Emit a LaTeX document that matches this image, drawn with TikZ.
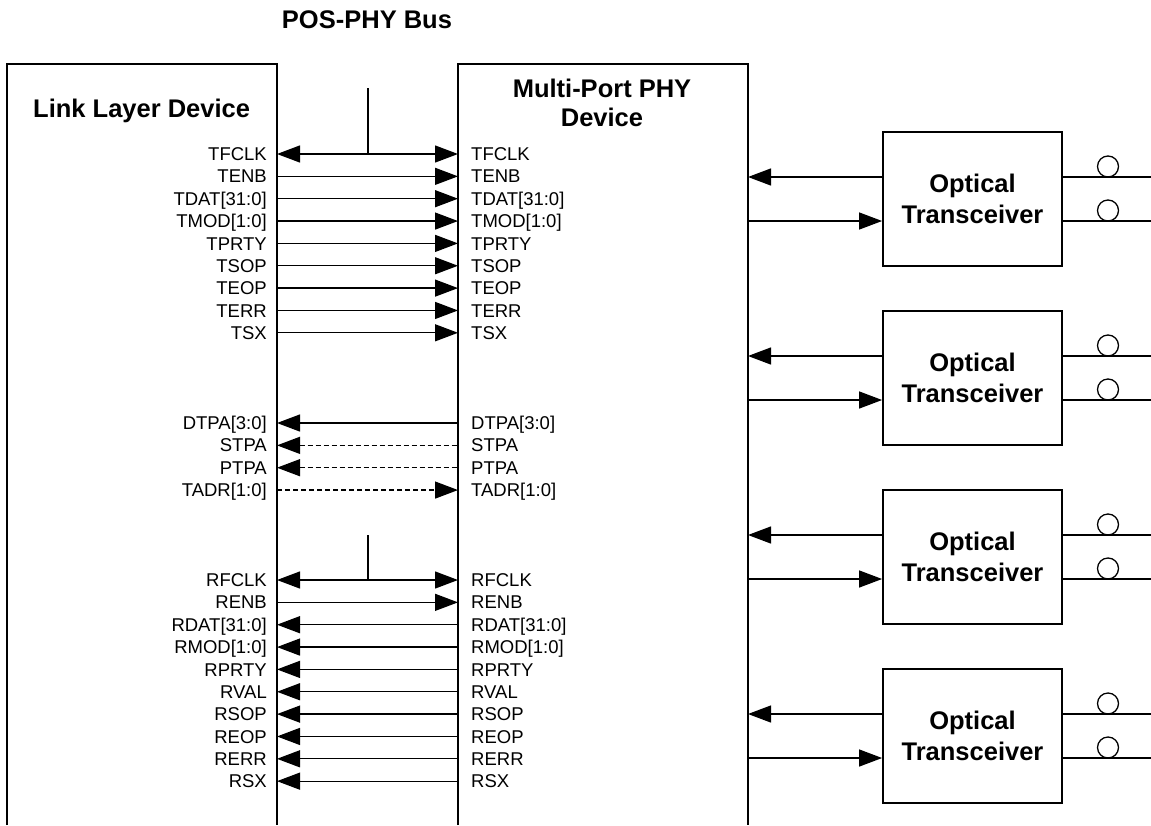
\documentclass[tikz,border=0pt]{standalone}
\usepackage{fontspec}
\setmainfont{Liberation Sans}
\usetikzlibrary{arrows.meta}
\begin{document}
\begin{tikzpicture}[x=1pt,y=-1pt,
  boxline/.style={line width=1.8pt},
  sig/.style={line width=1.3pt},
  tri/.tip={Triangle[length=23pt,width=17pt]},
  sigright/.style={sig,-tri},
  sigleft/.style={sig,tri-},
  sigbi/.style={sig,tri-tri},
  sigrightd/.style={sig,-tri,dash pattern=on 5pt off 3pt},
  sigleftd/.style={sig,tri-,dash pattern=on 5pt off 3pt},
  lbl/.style={inner sep=0pt,font=\fontsize{18.5pt}{22pt}\selectfont},
  title/.style={inner sep=0pt,font=\fontsize{25.5pt}{30pt}\selectfont\bfseries},
  optbox/.style={draw,boxline,minimum width=179pt,minimum height=134pt,inner sep=0pt,
    align=center,font=\fontsize{25.5pt}{31pt}\selectfont\bfseries},
  fiber/.style={line width=1.3pt}]
\useasboundingbox[fill=white] (0,0) rectangle (1151,825);

% titles
\node[title,anchor=base] (bus) at (367,28) {POS-PHY Bus};
\node[title,anchor=base west] (link) at (33,117) {Link Layer Device};
\node[title,anchor=base] (phy1) at (602,97) {Multi-Port PHY};
\node[title,anchor=base] (phy2) at (602,126) {Device};

% devices (open at the bottom)
\coordinate (lk1) at (7,825);  \coordinate (lk2) at (7,64);
\coordinate (lk3) at (277,64); \coordinate (lk4) at (277,825);
\draw[boxline] (lk1) -- (lk2) -- (lk3) -- (lk4);
\coordinate (ph1) at (458,825); \coordinate (ph2) at (458,64);
\coordinate (ph3) at (748,64);  \coordinate (ph4) at (748,825);
\draw[boxline] (ph1) -- (ph2) -- (ph3) -- (ph4);

% signals
\foreach \nm/\txt/\y/\st in {
  tfclk/TFCLK/154/sigbi, tenb/TENB/176.35/sigright, tdat/TDAT[31:0]/198.7/sigright,
  tmod/TMOD[1:0]/221.05/sigright, tprty/TPRTY/243.4/sigright, tsop/TSOP/265.75/sigright,
  teop/TEOP/288.1/sigright, terr/TERR/310.45/sigright, tsx/TSX/332.8/sigright,
  dtpa/DTPA[3:0]/423/sigleft, stpa/STPA/445.35/sigleftd, ptpa/PTPA/467.7/sigleftd,
  tadr/TADR[1:0]/490.05/sigrightd,
  rfclk/RFCLK/580/sigbi, renb/RENB/602.35/sigright, rdat/RDAT[31:0]/624.7/sigleft,
  rmod/RMOD[1:0]/647.05/sigleft, rprty/RPRTY/669.4/sigleft, rval/RVAL/691.75/sigleft,
  rsop/RSOP/714.1/sigleft, reop/REOP/736.45/sigleft, rerr/RERR/758.8/sigleft,
  rsx/RSX/781.15/sigleft}{
  \coordinate (L\nm) at (277,\y);
  \coordinate (P\nm) at (458,\y);
  \node[lbl,anchor=base east] (l\nm) at (267,\y+6.6) {\txt};
  \node[lbl,anchor=base west] (r\nm) at (471,\y+6.6) {\txt};
  \draw[\st] (L\nm) -- (P\nm);
}

% bus taps
\coordinate (bus1) at (368,88);
\draw[sig] (bus1) -- (bus1 |- Ltfclk);
\coordinate (bus2) at (368,535);
\draw[sig] (bus2) -- (bus2 |- Lrfclk);

% optical transceivers
\foreach \k/\yc in {1/199,2/378,3/557,4/736}{
  \node[optbox] (o\k) at (972.5,\yc) {Optical\\Transceiver};
  \coordinate (pa\k) at (748,\yc-22);
  \coordinate (pb\k) at (748,\yc+22);
  \coordinate (ea\k) at (1151,\yc-22);
  \coordinate (eb\k) at (1151,\yc+22);
  \draw[sigleft] (pa\k) -- (o\k.west |- pa\k);
  \draw[sigright] (pb\k) -- (o\k.west |- pb\k);
  \draw[fiber] (o\k.east |- ea\k) -- (ea\k);
  \draw[fiber] (o\k.east |- eb\k) -- (eb\k);
  \coordinate (ca\k) at (1108,\yc-32.5);
  \coordinate (cb\k) at (1108,\yc+11.5);
  \draw[fiber] (ca\k) circle[radius=10.5pt];
  \draw[fiber] (cb\k) circle[radius=10.5pt];
}
\end{tikzpicture}
\end{document}
